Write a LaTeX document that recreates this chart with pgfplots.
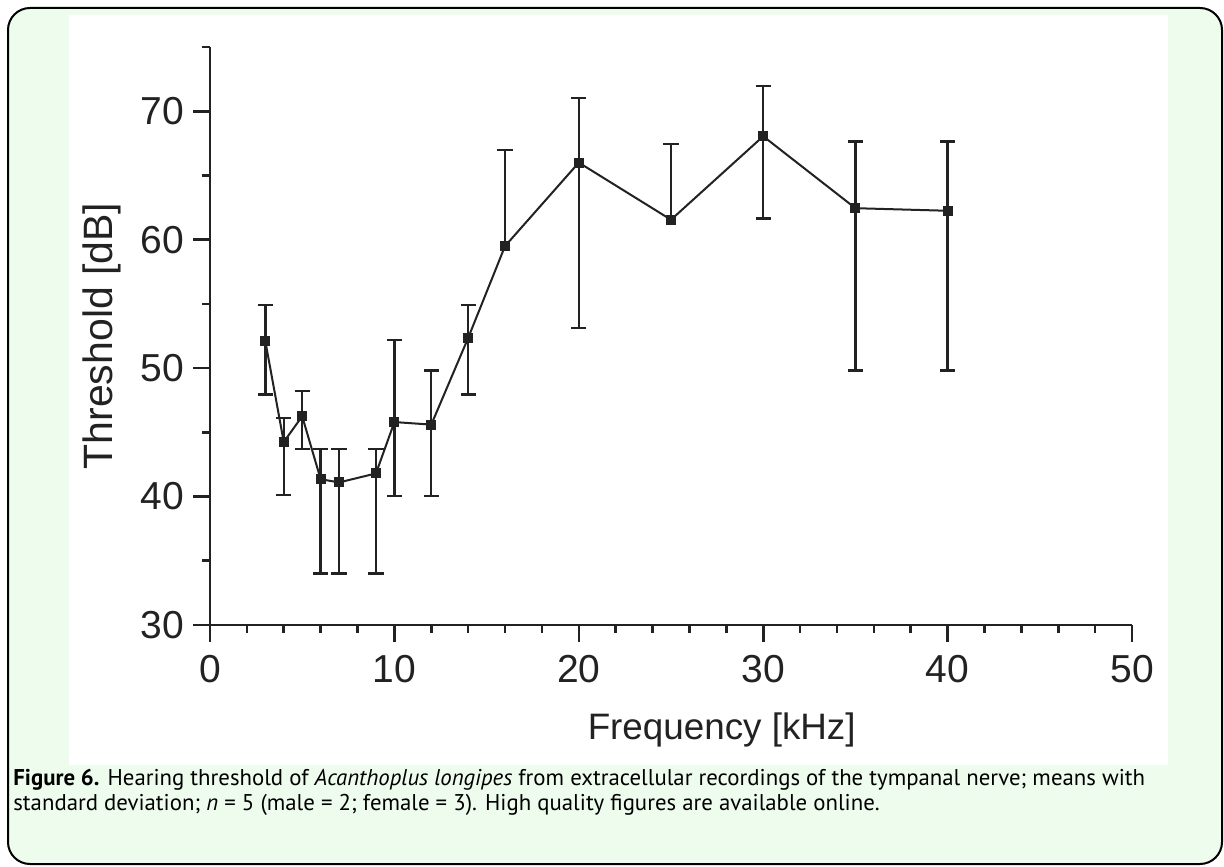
\documentclass[border=0pt]{standalone}
\usepackage{pgfplots}
\pgfplotsset{compat=1.18}
\usepackage{fontspec}
\setmainfont{Liberation Sans}
\newfontfamily\capfont{PT Sans}

\definecolor{boxgreen}{HTML}{EEFCEE}
\definecolor{ink}{HTML}{222222}

% mean threshold, upper and lower deviation
\pgfplotstableread{
x  y      ep    em
3  52.10  2.80  4.15
4  44.25  1.85  4.15
5  46.25  1.95  2.55
6  41.35  2.35  7.35
7  41.10  2.60  7.10
9  41.80  1.90  7.80
10 45.80  6.40  5.75
12 45.60  4.20  5.55
14 52.35  2.55  4.40
16 59.50  7.50  0
20 66.00  5.05  12.90
25 61.55  5.90  0
30 68.05  3.90  6.40
35 62.45  5.20  12.65
40 62.25  5.40  12.45
}\thresh

\pgfplotstableread{
x  y      ep    em
3  52.10  2.80  4.15
4  44.25  1.85  4.15
5  46.25  1.95  2.55
6  41.35  2.35  7.35
7  41.10  2.60  7.10
9  41.80  1.90  7.80
10 45.80  6.40  5.75
12 45.60  4.20  5.55
14 52.35  2.55  4.40
20 66.00  5.05  12.90
30 68.05  3.90  6.40
35 62.45  5.20  12.65
40 62.25  5.40  12.45
}\both

\pgfplotstableread{
x  y      ep
16 59.50  7.50
25 61.55  5.90
}\uponly

\begin{document}
\begin{tikzpicture}
% frame and white panel, in image pixels (1px = 0.5pt, y downwards)
\begin{scope}[x=0.5pt, y=-0.5pt, shift={(0pt,433pt)}]
\draw[line width=1pt, fill=boxgreen, rounded corners=11pt] (8,8) rectangle (1222,864);
\fill[white] (69,15) rectangle (1168,765);
\node[anchor=base west, inner sep=0pt, font=\capfont\fontsize{11.4}{12}\selectfont] at (13,786)
	{\textbf{Figure 6.} Hearing threshold of \textit{Acanthoplus longipes} from extracellular recordings of the tympanal nerve; means with};
\node[anchor=base west, inner sep=0pt, font=\capfont\fontsize{11.4}{12}\selectfont] at (13,811)
	{standard deviation; \textit{n} = 5 (male = 2; female = 3). High quality figures are available online.};
\end{scope}

\begin{axis}[
	at={(105pt,120.5pt)}, anchor=south west,
	scale only axis,
	width=461pt, height=289pt,
	xmin=0, xmax=50, ymin=30, ymax=75,
	axis x line*=bottom, axis y line*=left,
	axis line style={line width=1.3pt, color=ink},
	xtick={0,10,...,50}, ytick={30,40,...,70},
	minor x tick num=4, minor y tick num=1,
	extra y ticks={75}, extra y tick labels={},
	extra y tick style={major tick length=4pt},
	tick align=outside,
	major tick length=8.5pt, minor tick length=4pt,
	tick style={line width=1.3pt, color=ink},
	/pgf/number format/assume math mode=true,
	ticklabel style={font=\fontsize{19.5}{20}\selectfont, text=ink},
	xticklabel style={yshift=-3pt},
	yticklabel style={xshift=-1pt},
	xlabel={Frequency [kHz]},
	ylabel={Threshold [dB]},
	xlabel style={font=\fontsize{18.4}{20}\selectfont, text=ink,
		at={(axis description cs:0.555,0)}, anchor=base, yshift=-57pt},
	ylabel style={font=\fontsize{20.5}{22}\selectfont, text=ink,
		at={(axis description cs:0,0.5)}, anchor=base, yshift=49pt},
	clip=false,
]
\addplot[only marks, mark=square*, mark size=2pt, color=ink,
	error bars/.cd, y dir=both, y explicit,
	error bar style={line width=1.2pt, color=ink},
	error mark options={rotate=90, mark size=3.8pt, line width=1.2pt, color=ink}]
	table[x=x, y=y, y error plus=ep, y error minus=em] {\both};
\addplot[only marks, mark=square*, mark size=2pt, color=ink,
	error bars/.cd, y dir=plus, y explicit,
	error bar style={line width=1.2pt, color=ink},
	error mark options={rotate=90, mark size=3.8pt, line width=1.2pt, color=ink}]
	table[x=x, y=y, y error plus=ep] {\uponly};
\addplot[line width=1pt, color=ink, mark=square*, mark size=2pt]
	table[x=x, y=y] {\thresh};
\end{axis}

\pgfresetboundingbox
\useasboundingbox (0,0) rectangle (612pt,433pt);
\end{tikzpicture}
\end{document}
